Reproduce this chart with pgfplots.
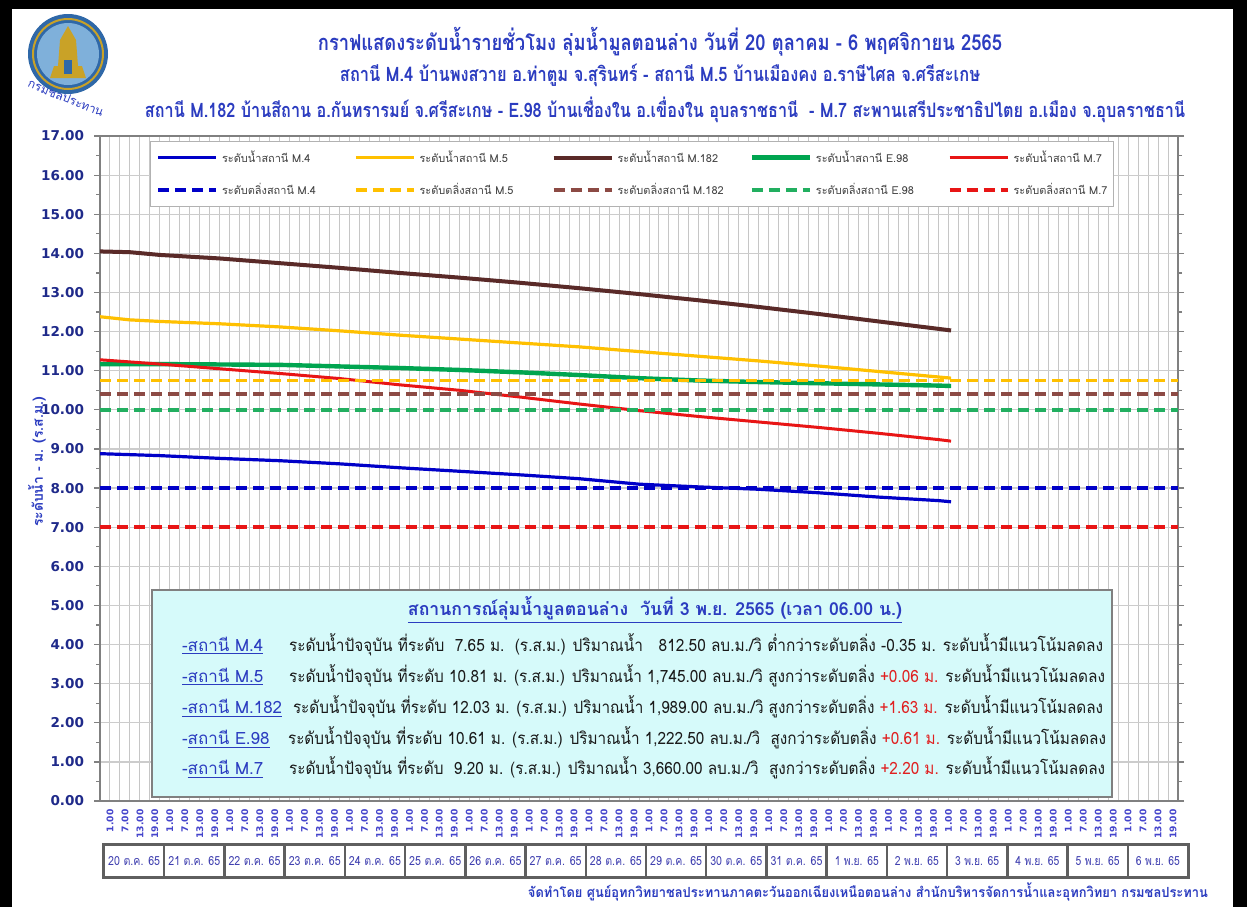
\documentclass[border=0pt]{standalone}
\usepackage{fontspec}
\usepackage{graphicx}
\usepackage{pgfplots}
\pgfplotsset{compat=1.18}
\setmainfont{DejaVu Sans}
\newfontfamily\thai[Script=Thai]{Loma}
\newfontfamily\dv{DejaVu Sans}
\definecolor{tblue}{HTML}{2B3CC0}
\definecolor{lblue}{HTML}{0000C8}
\definecolor{lgold}{HTML}{FFC000}
\definecolor{lbrown}{HTML}{5A2A28}
\definecolor{dbrown}{HTML}{8C4A44}
\definecolor{lgreen}{HTML}{00A550}
\definecolor{dgreen}{HTML}{22AF60}
\definecolor{lred}{HTML}{E81515}
\definecolor{navy}{HTML}{1F2A8A}
\definecolor{xlab}{HTML}{4444CC}
\definecolor{boxcyan}{HTML}{D6FAFA}
\definecolor{txtred}{HTML}{E02020}
\definecolor{logob}{HTML}{2F68A8}
\definecolor{logol}{HTML}{7FB0DA}
\definecolor{logog}{HTML}{C9A227}
\definecolor{cellg}{HTML}{5F5F5F}
\definecolor{celltxt}{HTML}{4040B0}
\definecolor{rowtxt}{HTML}{1A1A1A}
\newcommand{\fitw}[2]{\resizebox{#1}{\height}{#2}}
\begin{document}
\begin{tikzpicture}
\begin{scope}[x=0.5bp,y=-0.5bp]
\useasboundingbox (0,0) rectangle (1247,907);
\fill[black] (0,0) rectangle (1247,907);
\fill[white] (12,9) rectangle (1233,907);
% logo
\fill[logob] (68,54) circle (40);
\draw[logog, line width=1bp] (68,54) circle (35);
\fill[logol] (68,54) circle (31);
\fill[logog] (50,78) -- (86,78) -- (82,66) -- (78,66) -- (76,40) -- (68,26) -- (60,40) -- (58,66) -- (54,66) -- cycle;
\fill[logob] (64,60) rectangle (72,74);
\node[rotate=-22, text=tblue, font=\thai\fontsize{6}{7}\selectfont] at (66,98) {กรมชลประทาน};
% titles
\node[text=tblue, font=\thai\bfseries\fontsize{11}{13}\selectfont] at (660,42) {\fitw{342bp}{กราฟแสดงระดับน้ำรายชั่วโมง ลุ่มน้ำมูลตอนล่าง วันที่ 20 ตุลาคม - 6 พฤศจิกายน 2565}};
\node[text=tblue, font=\thai\bfseries\fontsize{10}{12}\selectfont] at (660,75) {\fitw{320bp}{สถานี M.4 บ้านพงสวาย อ.ท่าตูม จ.สุรินทร์ - สถานี M.5 บ้านเมืองคง อ.ราษีไศล จ.ศรีสะเกษ}};
\node[text=tblue, font=\thai\bfseries\fontsize{10}{12}\selectfont] at (665,110) {\fitw{520bp}{สถานี M.182 บ้านสีถาน อ.กันทรารมย์ จ.ศรีสะเกษ - E.98 บ้านเชื่องใน อ.เขื่องใน อุบลราชธานี~ - M.7 สะพานเสรีประชาธิปไตย อ.เมือง จ.อุบลราชธานี}};
% y label
\node[rotate=90, text=tblue, font=\thai\bfseries\fontsize{7}{8}\selectfont] at (37,462) {ระดับน้ำ - ม. (ร.ส.ม.)};
\end{scope}
\begin{axis}[
  at={(50bp,-400.5bp)}, anchor=south west,
  scale only axis, width=539bp, height=332.5bp,
  xmin=0, xmax=18, ymin=0, ymax=17,
  axis line style={draw=gray, line width=1bp},
  xtick={0.1666667,0.4166667,...,17.95},
  xticklabels={1.00,7.00,13.00,19.00,1.00,7.00,13.00,19.00,1.00,7.00,13.00,19.00,1.00,7.00,13.00,19.00,1.00,7.00,13.00,19.00,1.00,7.00,13.00,19.00,1.00,7.00,13.00,19.00,1.00,7.00,13.00,19.00,1.00,7.00,13.00,19.00,1.00,7.00,13.00,19.00,1.00,7.00,13.00,19.00,1.00,7.00,13.00,19.00,1.00,7.00,13.00,19.00,1.00,7.00,13.00,19.00,1.00,7.00,13.00,19.00,1.00,7.00,13.00,19.00,1.00,7.00,13.00,19.00,1.00,7.00,13.00,19.00},
  x tick style={draw=none},
  xticklabel style={rotate=90, anchor=east, font=\dv\bfseries\fontsize{4.6}{5}\selectfont, text=xlab, inner sep=1bp},
  minor xtick={0,0.1666667,...,18.01},
  xminorgrids, minor x grid style={gray!45, line width=0.5bp},
  ytick={0,1,...,17},
  minor ytick={0.5,1.5,...,16.5},
  ymajorgrids, major y grid style={gray!40, line width=0.6bp},
  y tick style={gray, line width=0.6bp},
  tick align=outside, major tick length=3bp, minor tick length=2bp,
  yticklabel style={/pgf/number format/.cd, fixed, fixed zerofill, precision=2, assume math mode=true, /tikz/.cd, font=\dv\bfseries\fontsize{6.8}{7}\selectfont, text=navy, xshift=-1.5bp},
  legend columns=5,
  legend style={at={(0.0464,0.9925)}, anchor=north west, draw=gray!60, fill=white, font=\thai\fontsize{5.5}{6}\selectfont, text=black!75, row sep=5bp, inner xsep=3bp, inner ysep=2.5bp, /tikz/every even column/.append style={column sep=0bp}},
  legend cell align=left,
  legend image code/.code={\draw[#1] (0bp,0bp) -- (29bp,0bp);},
]
\addplot[lblue, line width=1.6bp] coordinates {(0,8.88) (1,8.83) (2,8.76) (3,8.70) (4,8.62) (5,8.52) (6,8.43) (7,8.34) (8,8.24) (9,8.10) (10,8.03) (11,7.97) (12,7.88) (13,7.77) (14,7.68) (14.21,7.65)};
\addlegendentry{\makebox[64bp][l]{ระดับน้ำสถานี M.4}}
\addplot[lgold, line width=1.6bp] coordinates {(0,12.38) (0.5,12.30) (1,12.26) (2,12.20) (3,12.12) (4,12.02) (5,11.91) (6,11.81) (7,11.71) (8,11.61) (9,11.49) (10,11.37) (11,11.25) (12,11.12) (13,10.98) (14,10.84) (14.21,10.81)};
\addlegendentry{\makebox[64bp][l]{ระดับน้ำสถานี M.5}}
\addplot[lbrown, line width=2bp] coordinates {(0,14.05) (0.5,14.03) (1,13.96) (2,13.87) (3,13.75) (4,13.63) (5,13.50) (6,13.38) (7,13.25) (8,13.11) (9,12.96) (10,12.80) (11,12.63) (12,12.45) (13,12.26) (14,12.07) (14.21,12.03)};
\addlegendentry{\makebox[64bp][l]{ระดับน้ำสถานี M.182}}
\addplot[lgreen, line width=2.2bp] coordinates {(0,11.17) (1,11.17) (2,11.16) (3,11.15) (4,11.11) (5,11.07) (6,11.02) (7,10.96) (8,10.89) (9,10.81) (10,10.75) (11,10.71) (12,10.68) (13,10.65) (14,10.62) (14.21,10.61)};
\addlegendentry{\makebox[64bp][l]{ระดับน้ำสถานี E.98}}
\addplot[lred, line width=1.5bp] coordinates {(0,11.28) (1,11.17) (2,11.05) (3,10.93) (4,10.80) (5,10.64) (6,10.50) (7,10.33) (8,10.15) (9,9.98) (10,9.83) (11,9.69) (12,9.55) (13,9.40) (14,9.24) (14.21,9.20)};
\addlegendentry{\makebox[45bp][l]{ระดับน้ำสถานี M.7}}
\addplot[lblue, line width=1.8bp, dash pattern=on 5.5bp off 3bp] coordinates {(0,8.00) (18,8.00)};
\addlegendentry{\makebox[64bp][l]{ระดับตลิ่งสถานี M.4}}
\addplot[lgold, line width=1.8bp, dash pattern=on 5.5bp off 3bp] coordinates {(0,10.75) (18,10.75)};
\addlegendentry{\makebox[64bp][l]{ระดับตลิ่งสถานี M.5}}
\addplot[dbrown, line width=1.8bp, dash pattern=on 5.5bp off 3bp] coordinates {(0,10.40) (18,10.40)};
\addlegendentry{\makebox[64bp][l]{ระดับตลิ่งสถานี M.182}}
\addplot[dgreen, line width=1.8bp, dash pattern=on 5.5bp off 3bp] coordinates {(0,10.00) (18,10.00)};
\addlegendentry{\makebox[64bp][l]{ระดับตลิ่งสถานี E.98}}
\addplot[lred, line width=1.8bp, dash pattern=on 5.5bp off 3bp] coordinates {(0,7.00) (18,7.00)};
\addlegendentry{\makebox[45bp][l]{ระดับตลิ่งสถานี M.7}}
\end{axis}
\begin{scope}[x=0.5bp,y=-0.5bp]
% info box
\filldraw[fill=boxcyan, draw=gray, line width=1bp] (152,590) rectangle (1112,797);
\node[anchor=base, text=tblue, font=\thai\bfseries\fontsize{9}{11}\selectfont] at (655,615) {\underline{\fitw{247bp}{สถานการณ์ลุ่มน้ำมูลตอนล่าง~~วันที่ 3 พ.ย. 2565 (เวลา 06.00 น.)}}};
\begin{scope}[every node/.style={anchor=base west, font=\thai\fontsize{8.5}{10}\selectfont}]
\node[text=tblue] at (175,651) {\underline{-สถานี M.4}};
\node[text=tblue] at (175,682) {\underline{-สถานี M.5}};
\node[text=tblue] at (175,713) {\underline{-สถานี M.182}};
\node[text=tblue] at (175,744) {-\underline{สถานี E.98}};
\node[text=tblue] at (175,774) {-\underline{สถานี M.7}};
\node[text=rowtxt] at (282,651) {\fitw{407bp}{ระดับน้ำปัจจุบัน ที่ระดับ~~7.65 ม.~~(ร.ส.ม.) ปริมาณน้ำ~~~812.50 ลบ.ม./วิ ต่ำกว่าระดับตลิ่ง -0.35 ม. ระดับน้ำมีแนวโน้มลดลง}};
\node[text=rowtxt] at (282,682) {\fitw{408bp}{ระดับน้ำปัจจุบัน ที่ระดับ 10.81 ม. (ร.ส.ม.) ปริมาณน้ำ 1,745.00 ลบ.ม./วิ สูงกว่าระดับตลิ่ง \textcolor{txtred}{+0.06 ม.} ระดับน้ำมีแนวโน้มลดลง}};
\node[text=rowtxt] at (286,713) {\fitw{405bp}{ระดับน้ำปัจจุบัน ที่ระดับ 12.03 ม. (ร.ส.ม.) ปริมาณน้ำ 1,989.00 ลบ.ม./วิ สูงกว่าระดับตลิ่ง \textcolor{txtred}{+1.63 ม.} ระดับน้ำมีแนวโน้มลดลง}};
\node[text=rowtxt] at (281,744) {\fitw{409bp}{ระดับน้ำปัจจุบัน ที่ระดับ 10.61 ม. (ร.ส.ม.) ปริมาณน้ำ 1,222.50 ลบ.ม./วิ~ สูงกว่าระดับตลิ่ง \textcolor{txtred}{+0.61 ม.} ระดับน้ำมีแนวโน้มลดลง}};
\node[text=rowtxt] at (282,774) {\fitw{408bp}{ระดับน้ำปัจจุบัน ที่ระดับ~~9.20 ม. (ร.ส.ม.) ปริมาณน้ำ 3,660.00 ลบ.ม./วิ~ สูงกว่าระดับตลิ่ง \textcolor{txtred}{+2.20 ม.} ระดับน้ำมีแนวโน้มลดลง}};
\end{scope}
% day boxes
\fill[cellg] (102,843) rectangle (1190,879);
\foreach \i/\lab in {0/20 ต.ค. 65,1/21 ต.ค. 65,2/22 ต.ค. 65,3/23 ต.ค. 65,4/24 ต.ค. 65,5/25 ต.ค. 65,6/26 ต.ค. 65,7/27 ต.ค. 65,8/28 ต.ค. 65,9/29 ต.ค. 65,10/30 ต.ค. 65,11/31 ต.ค. 65,12/1 พ.ย. 65,13/2 พ.ย. 65,14/3 พ.ย. 65,15/4 พ.ย. 65,16/5 พ.ย. 65,17/6 พ.ย. 65}{
  \fill[white] ({104+60.22*\i+1.2},846) rectangle ({104+60.22*(\i+1)-1.2},876);
  \node[text=celltxt, font=\thai\fontsize{6.3}{7}\selectfont, inner sep=0pt] at ({104+60.22*(\i+0.5)},861) {\ifnum\i<12 \fitw{26bp}{\lab}\else\fitw{22bp}{\lab}\fi};
}
% footer
\node[anchor=base east, text=tblue, font=\thai\bfseries\fontsize{7}{8}\selectfont] at (1215,897) {\fitw{340bp}{จัดทำโดย ศูนย์อุทกวิทยาชลประทานภาคตะวันออกเฉียงเหนือตอนล่าง สำนักบริหารจัดการน้ำและอุทกวิทยา กรมชลประทาน}};
\end{scope}
\end{tikzpicture}
\end{document}
